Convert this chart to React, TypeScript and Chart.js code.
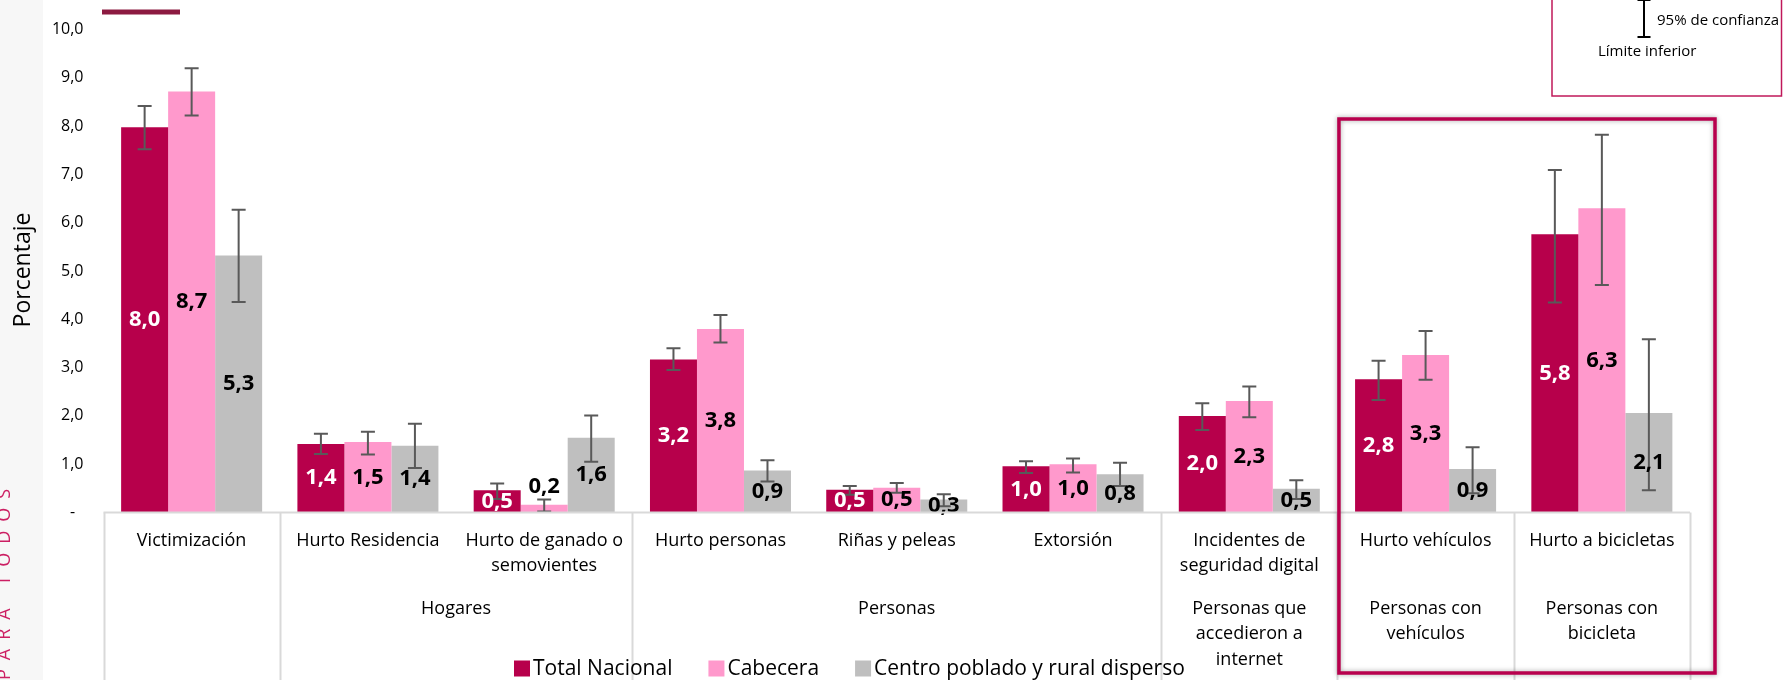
import React, { useEffect, useRef } from "react";
import { Chart, registerables } from "chart.js";

Chart.register(...registerables);

const FONT = "'Open Sans', 'Noto Sans', sans-serif";

// ---- data ----
const categories: string[][] = [
  ["Victimización"],
  ["Hurto Residencia"],
  ["Hurto de ganado o", "semovientes"],
  ["Hurto personas"],
  ["Riñas y peleas"],
  ["Extorsión"],
  ["Incidentes de", "seguridad digital"],
  ["Hurto vehículos"],
  ["Hurto a bicicletas"],
];

const groupLabels: string[][] = [
  [],
  ["Hogares"],
  ["Personas"],
  ["Personas que", "accedieron a", "internet"],
  ["Personas con", "vehículos"],
  ["Personas con", "bicicleta"],
];
const groupFrom = [0, 1, 3, 6, 7, 8];
const groupTo = [0, 2, 5, 6, 7, 8];

const seriesNames = ["Total Nacional", "Cabecera", "Centro poblado y rural disperso"];
const seriesColors = ["#b7004b", "#ff99cc", "#bfbfbf"];
const labelColors = ["#ffffff", "#000000", "#000000"];

const totalNacional = [7.98, 1.42, 0.46, 3.17, 0.47, 0.96, 2.0, 2.76, 5.76];
const cabecera = [8.72, 1.46, 0.16, 3.8, 0.51, 1.0, 2.31, 3.26, 6.3];
const centroPoblado = [5.32, 1.38, 1.55, 0.87, 0.27, 0.79, 0.49, 0.9, 2.06];

const totalLow = [7.52, 1.21, 0.28, 2.95, 0.37, 0.82, 1.71, 2.33, 4.35];
const totalHigh = [8.42, 1.63, 0.6, 3.4, 0.55, 1.06, 2.26, 3.14, 7.09];
const cabeceraLow = [8.22, 1.2, 0.02, 3.52, 0.41, 0.83, 1.97, 2.75, 4.71];
const cabeceraHigh = [9.2, 1.67, 0.27, 4.09, 0.61, 1.12, 2.61, 3.76, 7.82];
const centroLow = [4.36, 0.92, 1.05, 0.64, 0.13, 0.55, 0.28, 0.4, 0.46];
const centroHigh = [6.27, 1.84, 2.01, 1.08, 0.38, 1.03, 0.67, 1.35, 3.59];

const yTickLabels = ["-", "1,0", "2,0", "3,0", "4,0", "5,0", "6,0", "7,0", "8,0", "9,0", "10,0"];

const seriesValues = [totalNacional, cabecera, centroPoblado];
const seriesLow = [totalLow, cabeceraLow, centroLow];
const seriesHigh = [totalHigh, cabeceraHigh, centroHigh];

const fmt = (v: number) => v.toFixed(1).replace(".", ",");

const TICK_PAD = 20;

const decor = {
  id: "decor",
  beforeDraw(chart: any) {
    const ctx = chart.ctx;
    ctx.save();
    ctx.fillStyle = "#ffffff";
    ctx.fillRect(0, 0, chart.width, chart.height);
    ctx.fillStyle = "#f7f7f7";
    ctx.fillRect(0, 0, 43, chart.height);
    ctx.restore();
  },
  afterDatasetsDraw(chart: any) {
    const ctx = chart.ctx;
    const y = chart.scales.y;
    ctx.save();
    // error bars
    ctx.strokeStyle = "#595959";
    ctx.lineWidth = 2;
    for (let i = 0; i < seriesValues.length; i++) {
      const meta = chart.getDatasetMeta(i);
      meta.data.forEach((el: any, j: number) => {
        const x = el.x;
        const yh = y.getPixelForValue(seriesHigh[i][j]);
        const yl = y.getPixelForValue(seriesLow[i][j]);
        ctx.beginPath();
        ctx.moveTo(x, yh);
        ctx.lineTo(x, yl);
        ctx.moveTo(x - 7, yh);
        ctx.lineTo(x + 7, yh);
        ctx.moveTo(x - 7, yl);
        ctx.lineTo(x + 7, yl);
        ctx.stroke();
      });
    }
    // data labels
    ctx.font = `bold 22px ${FONT}`;
    ctx.textAlign = "center";
    ctx.textBaseline = "middle";
    for (let i = 0; i < seriesValues.length; i++) {
      const meta = chart.getDatasetMeta(i);
      meta.data.forEach((el: any, j: number) => {
        const top = el.y;
        const base = el.base;
        const h = base - top;
        const cy = h < 12 ? top - 18 : (top + base) / 2;
        ctx.fillStyle = h < 12 ? "#000000" : labelColors[i];
        ctx.fillText(fmt(seriesValues[i][j]), el.x, cy);
      });
    }
    ctx.restore();
  },
  afterDraw(chart: any) {
    const ctx = chart.ctx;
    const area = chart.chartArea;
    const xs = chart.scales.x;
    const ys = chart.scales.y;
    const n = categories.length;
    const cw = (area.right - area.left) / n;
    const base = ys.getPixelForValue(0);
    const H = chart.height;
    ctx.save();

    // zero tick label (centred under the other tick labels)
    ctx.font = `16px ${FONT}`;
    ctx.fillStyle = "#000000";
    ctx.textAlign = "center";
    ctx.textBaseline = "middle";
    ctx.fillText(yTickLabels[0], area.left - TICK_PAD - 11, base);

    // axis baseline
    ctx.strokeStyle = "#d9d9d9";
    ctx.lineWidth = 2;
    ctx.beginPath();
    ctx.moveTo(area.left, base);
    ctx.lineTo(area.right, base);
    ctx.stroke();

    // boundaries of groups
    const bounds = new Set<number>();
    groupFrom.forEach((f, g) => {
      bounds.add(f);
      bounds.add(groupTo[g] + 1);
    });
    ctx.beginPath();
    bounds.forEach((k) => {
      const bx = Math.round(area.left + k * cw) + 0.5;
      ctx.moveTo(bx, base);
      ctx.lineTo(bx, H);
    });
    ctx.stroke();

    // category labels
    ctx.fillStyle = "#000000";
    ctx.font = `18px ${FONT}`;
    ctx.textAlign = "center";
    ctx.textBaseline = "middle";
    categories.forEach((lines, j) => {
      const cx = xs.getPixelForValue(j);
      lines.forEach((t, l) => ctx.fillText(t, cx, base + 28 + l * 25));
    });
    // group labels
    groupLabels.forEach((lines, g) => {
      const cx = (xs.getPixelForValue(groupFrom[g]) + xs.getPixelForValue(groupTo[g])) / 2;
      lines.forEach((t, l) => ctx.fillText(t, cx, base + 96 + l * 25.5));
    });

    // legend
    ctx.font = `21px ${FONT}`;
    ctx.textAlign = "left";
    let lx = 514;
    const ly = 668.5;
    seriesNames.forEach((name, i) => {
      ctx.fillStyle = seriesColors[i];
      ctx.fillRect(lx, ly - 8, 16, 16);
      ctx.fillStyle = "#000000";
      ctx.fillText(name, lx + 19, ly + 1);
      lx += 19 + ctx.measureText(name).width + 36;
    });

    // highlight box
    const bx0 = area.left + 7 * cw + 1.5;
    const bx1 = area.right + 25;
    ctx.save();
    ctx.shadowColor = "rgba(0,0,0,0.35)";
    ctx.shadowBlur = 5;
    ctx.strokeStyle = "#b8004d";
    ctx.lineWidth = 3.5;
    ctx.strokeRect(bx0, 119, bx1 - bx0, 554);
    ctx.restore();

    // confidence legend box (top right)
    ctx.strokeStyle = "#c0185a";
    ctx.lineWidth = 1.5;
    ctx.strokeRect(1552, -5, 229.5, 101);
    ctx.strokeStyle = "#000000";
    ctx.lineWidth = 2;
    ctx.beginPath();
    ctx.moveTo(1644, -2);
    ctx.lineTo(1644, 37);
    ctx.moveTo(1637.5, 37);
    ctx.lineTo(1650.5, 37);
    ctx.moveTo(1637.5, 0);
    ctx.lineTo(1650.5, 0);
    ctx.stroke();
    ctx.fillStyle = "#000000";
    ctx.font = `15px ${FONT}`;
    ctx.textAlign = "left";
    ctx.textBaseline = "middle";
    ctx.fillText("95% de confianza", 1657, 21);
    ctx.fillText("Límite inferior", 1598, 52);

    // top-left accent line
    ctx.fillStyle = "#8c1a41";
    ctx.fillRect(102, 9.5, 78, 5);

    // y title
    ctx.save();
    ctx.translate(23, 270);
    ctx.rotate(-Math.PI / 2);
    ctx.font = `23px ${FONT}`;
    ctx.textAlign = "center";
    ctx.textBaseline = "middle";
    ctx.fillStyle = "#000000";
    ctx.fillText("Porcentaje", 0, 0);
    ctx.restore();

    // side brand text
    ctx.save();
    ctx.translate(10, 680);
    ctx.rotate(-Math.PI / 2);
    ctx.font = `18px ${FONT}`;
    (ctx as any).letterSpacing = "9px";
    ctx.textAlign = "left";
    ctx.textBaseline = "alphabetic";
    ctx.fillStyle = "#cc1f63";
    ctx.fillText("PARA TODOS", 0, 0);
    ctx.restore();

    ctx.restore();
  },
};

export default function App() {
  const ref = useRef<HTMLCanvasElement | null>(null);
  useEffect(() => {
    if (!ref.current) return;
    Chart.defaults.font.family = FONT;
    const chart = new Chart(ref.current, {
      type: "bar",
      data: {
        labels: categories.map((c) => c.join(" ")),
        datasets: seriesNames.map((name, i) => ({
          label: name,
          data: seriesValues[i],
          backgroundColor: seriesColors[i],
          borderWidth: 0,
          categoryPercentage: 0.8,
          barPercentage: 1,
        })),
      },
      options: {
        responsive: false,
        animation: false,
        devicePixelRatio: 1,
        layout: { padding: { top: 24, right: 93, bottom: 167.5, left: 0 } },
        plugins: { legend: { display: false }, tooltip: { enabled: false } },
        scales: {
          x: { display: false },
          y: {
            min: 0,
            max: 10,
            afterFit: (s: any) => {
              s.width = 103.5;
            },
            grid: { display: false, drawTicks: false },
            border: { display: false },
            ticks: {
              stepSize: 1,
              padding: TICK_PAD,
              color: "#000000",
              font: { size: 16, family: FONT },
              callback: (_v: any, idx: number) => (idx === 0 ? "" : yTickLabels[idx]),
            },
          },
        },
      },
      plugins: [decor],
    } as any);
    return () => chart.destroy();
  }, []);
  return (
    <div style={{ position: "absolute", left: 0, top: 0, width: 1783, height: 680, overflow: "hidden" }}>
      <canvas ref={ref} width={1783} height={680} style={{ width: 1783, height: 680, display: "block" }} />
    </div>
  );
}
